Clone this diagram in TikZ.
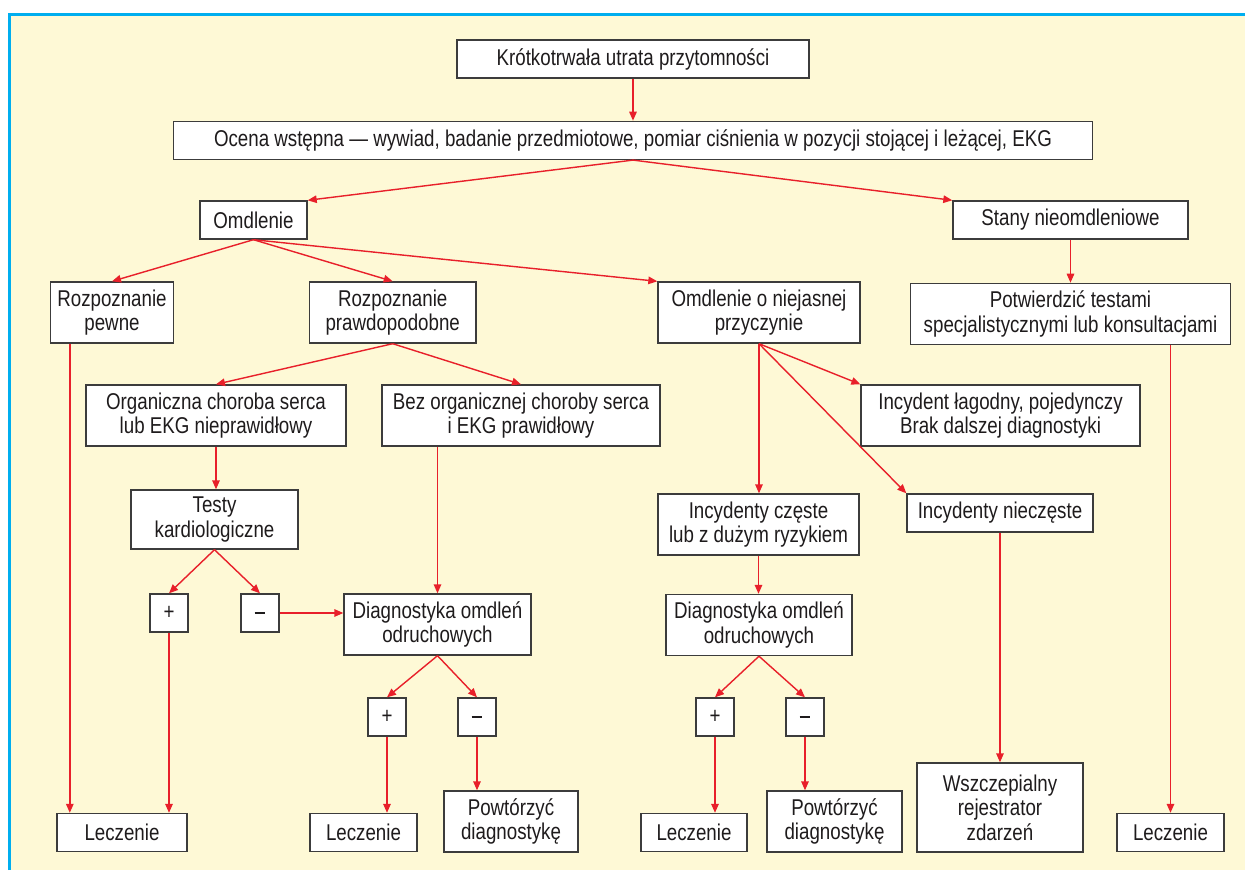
\documentclass[tikz,border=0pt]{standalone}
\usepackage{fontspec}
\setmainfont{Liberation Sans}[FakeStretch=0.82]
\usetikzlibrary{positioning, arrows.meta, calc}
\definecolor{bgyellow}{RGB}{254,249,214}
\definecolor{frameblue}{RGB}{0,174,239}
\definecolor{arrred}{RGB}{232,32,42}
\definecolor{boxgray}{RGB}{60,60,60}
\definecolor{txtgray}{RGB}{30,27,28}
\newcommand{\minussign}{\rule{6.2pt}{1.5pt}}

\begin{document}
\begin{tikzpicture}[
    x=0.02cm, y=-0.02cm,
    box/.style={rectangle, draw=boxgray, fill=white, line width=0.8pt, align=center, inner sep=2pt, minimum height=0.76cm, text=txtgray, font=\fontsize{13}{14}\selectfont},
    box2/.style={box, minimum height=1.22cm},
    sign/.style={box, minimum width=0.76cm},
    arr/.style={-{Triangle[length=0.18cm, width=0.15cm]}, draw=arrred, line width=0.8pt}
]
    \useasboundingbox (0,0) rectangle (1245,870);
    \fill[bgyellow] (9.5,14.5) rectangle (1245,870);
    \draw[frameblue, line width=0.06cm] (9.5,870) -- (9.5,14.5) -- (1245,14.5);

    % top of the chart
    \node[box, minimum width=7.04cm] (top) at (633,59) {Krótkotrwała utrata przytomności};
    \node[box, minimum width=18.38cm] (ocena) [below=0.84cm of top] {Ocena wstępna — wywiad, badanie przedmiotowe, pomiar ciśnienia w pozycji stojącej i leżącej, EKG};

    \node[box, minimum width=2.14cm] (omd) at (253.5,220) {Omdlenie};
    \node[box, minimum width=4.7cm] (stany) at (1070.5,220) {Stany nieomdleniowe};

    \node[box2, minimum width=2.46cm] (pewne) at (112,312.5) {Rozpoznanie\\pewne};
    \node[box2, minimum width=3.34cm] (prawd) at (392.7,312.5) {Rozpoznanie\\prawdopodobne};
    \node[box2, minimum width=4.04cm] (niejas) at (759,312.5) {Omdlenie o niejasnej\\przyczynie};
    \node[box2, minimum width=6.4cm] (potw) [below=0.86cm of stany] {Potwierdzić testami\\specjalistycznymi lub konsultacjami};

    \node[box2, minimum width=5.2cm] (org) at (216,415.5) {Organiczna choroba serca\\lub EKG nieprawidłowy};
    \node[box2, minimum width=5.56cm] (bez) at (521,415.5) {Bez organicznej choroby serca\\i EKG prawidłowy};
    \node[box2, minimum width=5.58cm] (lag) at (1000.5,415.5) {Incydent łagodny, pojedynczy\\Brak dalszej diagnostyki};

    \node[box2, minimum width=3.34cm, minimum height=1.18cm] (testy) at (214.5,519.5) {Testy\\kardiologiczne};
    \node[box2, minimum width=4.02cm] (czeste) at (758.5,524.5) {Incydenty częste\\lub z dużym ryzykiem};
    \node[box, minimum width=3.72cm] (nieczeste) at (1000,513) {Incydenty nieczęste};

    % left branch
    \node[sign] (p1) at (169,613) {+};
    \node[sign] (m1) at (260,613) {\minussign};
    \node[box2, minimum width=3.74cm] (d1) at (437.5,624.5) {Diagnostyka omdleń\\odruchowych};
    \node[sign] (p2) at (387,717) {+};
    \node[sign] (m2) at (477,717) {\minussign};

    % right branch
    \node[box2, minimum width=3.72cm] (d2) at (759,625) {Diagnostyka omdleń\\odruchowych};
    \node[sign] (p3) at (715,717) {+};
    \node[sign] (m3) at (805,717) {\minussign};

    % bottom row
    \node[box, minimum width=2.6cm] (l1) at (122,832.5) {Leczenie};
    \node[box, minimum width=2.14cm] (l2) at (363.5,832.5) {Leczenie};
    \node[box2, minimum width=2.68cm] (pw1) at (511,821.5) {Powtórzyć\\diagnostykę};
    \node[box, minimum width=2.12cm] (l3) at (694,832.5) {Leczenie};
    \node[box2, minimum width=2.7cm] (pw2) at (834.5,821.5) {Powtórzyć\\diagnostykę};
    \node[box, minimum width=3.32cm, minimum height=1.78cm] (wszcz) at (1000,807.5) {Wszczepialny\\rejestrator\\zdarzeń};
    \node[box, minimum width=2.14cm] (l4) at (1170.5,832.5) {Leczenie};

    \coordinate (pw) at ([xshift=0.4cm]pewne.south west);

    \draw[arr] (top) -- (ocena);
    \draw[arr] (ocena.south) -- (omd.north east);
    \draw[arr] (ocena.south) -- (stany.north west);
    \draw[arr] (omd.south) -- (pewne.north);
    \draw[arr] (omd.south) -- (prawd.north);
    \draw[arr] (omd.south) -- (niejas.north west);
    \draw[arr] (stany) -- (potw);
    \draw[arr] (pw) -- (pw |- l1.north);
    \draw[arr] (prawd.south) -- (org.north);
    \draw[arr] (prawd.south) -- (bez.north);
    \draw[arr] (org.south) -- (org.south |- testy.north);
    \draw[arr] (testy.south) -- (p1.north);
    \draw[arr] (testy.south) -- (m1.north);
    \draw[arr] (m1.east) -- (m1.east -| d1.west);
    \draw[arr] (d1.north |- bez.south) -- (d1.north);
    \draw[arr] (p1.south) -- (p1.south |- l1.north);
    \draw[arr] (d1.south) -- (p2.north);
    \draw[arr] (d1.south) -- (m2.north);
    \draw[arr] (p2.south) -- (p2.south |- l2.north);
    \draw[arr] (m2.south) -- (m2.south |- pw1.north);
    \draw[arr] (niejas.south) -- (niejas.south |- czeste.north);
    \draw[arr] (niejas.south) -- (lag.north west);
    \draw[arr] (niejas.south) -- (nieczeste.north west);
    \draw[arr] (czeste.south) -- (czeste.south |- d2.north);
    \draw[arr] (d2.south) -- (p3.north);
    \draw[arr] (d2.south) -- (m3.north);
    \draw[arr] (p3.south) -- (p3.south |- l3.north);
    \draw[arr] (m3.south) -- (m3.south |- pw2.north);
    \draw[arr] (nieczeste.south) -- (nieczeste.south |- wszcz.north);
    \draw[arr] (l4.north |- potw.south) -- (l4.north);
\end{tikzpicture}
\end{document}
